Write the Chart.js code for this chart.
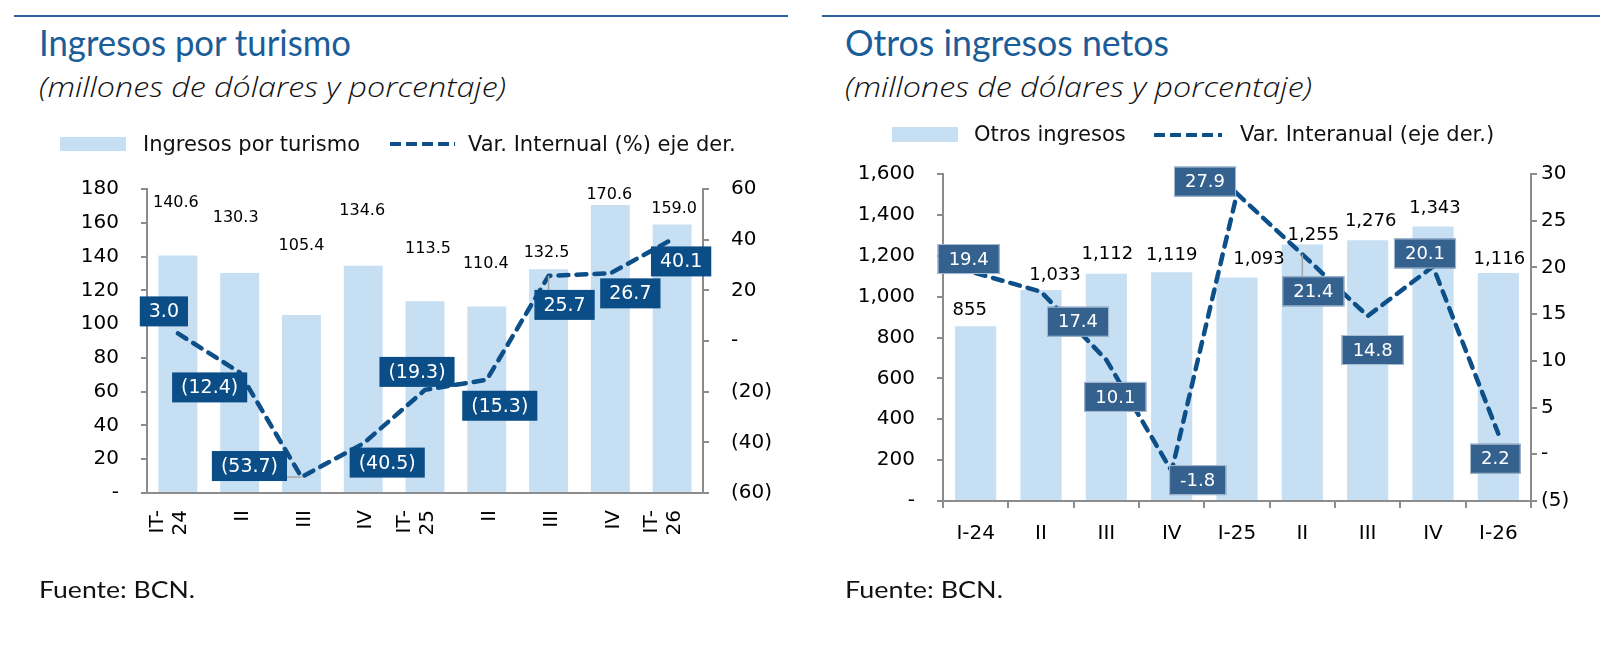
<!DOCTYPE html>
<html><head><meta charset="utf-8">
<script src="https://cdn.jsdelivr.net/npm/chart.js@4.4.1/dist/chart.umd.min.js"></script>
<style>
html,body{margin:0;padding:0;background:#fff;}
body{width:1612px;height:672px;position:relative;overflow:hidden;}
.t{position:absolute;white-space:nowrap;transform-origin:0 50%;}
.rule{position:absolute;height:2px;background:#2b6299;top:15px;}
.title{font-family:Lato,'Noto Sans',sans-serif;font-size:36px;line-height:36px;color:#1b5d98;}
.sub{font-family:'Open Sans','Noto Sans',sans-serif;font-style:italic;font-weight:300;font-size:27px;line-height:27px;color:#111;}
.src{font-family:Lato,'Noto Sans',sans-serif;font-size:24px;line-height:24px;color:#111;}
.leg{position:absolute;white-space:nowrap;font-family:'DejaVu Sans',sans-serif;font-size:21px;line-height:24px;color:#111;z-index:2;}
.lbox{position:absolute;background:#c7dff3;z-index:2;}
.ldash{position:absolute;height:4px;z-index:2;background:repeating-linear-gradient(90deg,#0d4f88 0 11px,transparent 11px 16px);}
canvas{position:absolute;top:0;}
</style></head><body>

<div class="rule" style="left:14px;width:774px"></div>
<div class="rule" style="left:822px;width:778px"></div>

<div class="t title" data-w="312" style="left:39px;top:24px">Ingresos por turismo</div>
<div class="t sub" data-w="467" style="left:39px;top:73px">(millones de dólares y porcentaje)</div>
<div class="t title" data-w="324" style="left:845px;top:24px">Otros ingresos netos</div>
<div class="t sub" data-w="467" style="left:845px;top:73px">(millones de dólares y porcentaje)</div>

<div class="lbox" style="left:60px;top:137px;width:66px;height:14px"></div>
<div class="leg" style="left:143px;top:132px">Ingresos por turismo</div>
<div class="ldash" style="left:390px;top:142px;width:65px"></div>
<div class="leg" style="left:468px;top:132px">Var. Internual (%) eje der.</div>

<div class="lbox" style="left:892px;top:127px;width:66px;height:15px"></div>
<div class="leg" style="left:974px;top:122px">Otros ingresos</div>
<div class="ldash" style="left:1154px;top:133px;width:68px"></div>
<div class="leg" style="left:1240px;top:122px">Var. Interanual (eje der.)</div>

<canvas id="c1" width="800" height="672" style="left:0"></canvas>
<canvas id="c2" width="806" height="672" style="left:806px"></canvas>

<div class="t src" data-w="156" style="left:39px;top:577px">Fuente: BCN.</div>
<div class="t src" data-w="158" style="left:845px;top:577px">Fuente: BCN.</div>

<script>
// ---- data ----
const categoriesTurismo = ['IT-24','II','III','IV','IT-25','II','III','IV','IT-26'];
const ingresosTurismo = [140.6,130.3,105.4,134.6,113.5,110.4,132.5,170.6,159.0];
const varTurismo = [3.0,-12.4,-53.7,-40.5,-19.3,-15.3,25.7,26.7,40.1];

const categoriesOtros = ['I-24','II','III','IV','I-25','II','III','IV','I-26'];
const otrosIngresos = [855,1033,1112,1119,1093,1255,1276,1343,1116];
const varOtros = [19.4,17.4,10.1,-1.8,27.9,21.4,14.8,20.1,2.2];

// ---- label placement (pixel offsets from the mark) ----
const barLabelOff1 = [[-2,-53],[-4,-55],[0,-69],[-1,-55],[3,-52],[-1,-43],[-2,-16],[-1,-10],[2,-16]];
const boxOff1 = [[-14,-22],[-30,15],[-52,-11],[24,19],[-8,-18],[13,26],[16,29],[20,20],[9,22]];
const barLabelOff2 = [[-6,-16],[14,-15],[1,-19],[0,-17],[22,-18],[11,-9],[3,-19],[2,-18],[1,-14]];
const boxOff2 = [[-7,-14],[37,30],[9,37],[26,9],[-32,-12],[11,37],[5,34],[-8,-13],[-3,25]];
const leaders1 = [2, 6];
const leaders2 = [5];

const FONT = "'DejaVu Sans', Verdana, sans-serif";
const AX = '#8c8c8c';
const LINE = '#0d4f88';
const BAR = '#c7dff3';

const valueLabels = {
  id: 'valueLabels',
  afterDatasetsDraw(chart, args, o) {
    const ctx = chart.ctx;
    const pts = chart.getDatasetMeta(0).data;
    const bars = chart.getDatasetMeta(1).data;
    ctx.save();
    ctx.textAlign = 'center';
    ctx.textBaseline = 'middle';
    ctx.font = o.barFont;
    ctx.fillStyle = '#000';
    bars.forEach((b, i) => {
      ctx.fillText(o.barText(i), b.x + o.barOff[i][0], b.y + o.barOff[i][1]);
    });
    ctx.font = o.boxFont;
    pts.forEach((p, i) => {
      const t = o.lineText(i);
      const w = ctx.measureText(t).width + 2 * o.padX, h = o.boxH;
      const cx = p.x + o.boxOff[i][0], cy = p.y + o.boxOff[i][1];
      const x0 = cx - w / 2, y0 = cy - h / 2;
      if (o.leaders.includes(i)) {
        const nx = Math.min(Math.max(p.x, x0), x0 + w);
        const ny = Math.min(Math.max(p.y, y0), y0 + h);
        ctx.strokeStyle = '#a6a6a6'; ctx.lineWidth = 1.5;
        ctx.beginPath(); ctx.moveTo(p.x, p.y); ctx.lineTo(nx, ny); ctx.stroke();
      }
      ctx.fillStyle = o.boxFill;
      ctx.fillRect(x0, y0, w, h);
      if (o.boxStroke) {
        ctx.strokeStyle = o.boxStroke; ctx.lineWidth = 1;
        ctx.strokeRect(x0 + 0.5, y0 + 0.5, w - 1, h - 1);
      }
      ctx.fillStyle = '#fff';
      ctx.fillText(t, cx, cy + 1);
    });
    ctx.restore();
  }
};

function pctParen(v) { return v < 0 ? '(' + Math.abs(v) + ')' : (v === 0 ? '-' : String(v)); }

function yAxis(pos, min, max, step, cb, width, pad) {
  return {
    position: pos, min: min, max: max,
    ticks: { stepSize: step, padding: pad, color: '#000', font: { family: FONT, size: 20 }, callback: cb },
    grid: { drawOnChartArea: false, tickLength: 6, color: AX, lineWidth: 2 },
    border: { color: AX, width: 2 },
    afterFit: s => { s.width = width; }
  };
}

// ---- chart 1 ----
new Chart(document.getElementById('c1'), {
  type: 'bar',
  data: {
    labels: categoriesTurismo,
    datasets: [
      { type: 'line', label: 'Var. Internual (%) eje der.', data: varTurismo, yAxisID: 'y1', order: 0,
        borderColor: LINE, borderWidth: 4.5, borderDash: [10, 8], borderCapStyle: 'round', pointRadius: 0, tension: 0, fill: false },
      { type: 'bar', label: 'Ingresos por turismo', data: ingresosTurismo, yAxisID: 'y', order: 1,
        backgroundColor: BAR, categoryPercentage: 1, barPercentage: 0.63 }
    ]
  },
  options: {
    responsive: false, animation: false,
    layout: { padding: { top: 189, left: 0, right: 0, bottom: 0 } },
    plugins: {
      legend: { display: false }, tooltip: { enabled: false },
      valueLabels: {
        barFont: '16px ' + FONT, boxFont: '19px ' + FONT, padX: 9, boxH: 30,
        boxFill: '#0b4d87', boxStroke: null,
        barOff: barLabelOff1, boxOff: boxOff1, leaders: leaders1,
        barText: i => ingresosTurismo[i].toFixed(1),
        lineText: i => varTurismo[i] < 0 ? '(' + Math.abs(varTurismo[i]).toFixed(1) + ')' : varTurismo[i].toFixed(1)
      }
    },
    scales: {
      x: {
        grid: { display: true, drawOnChartArea: false, drawTicks: false },
        border: { color: AX, width: 2 },
        ticks: { autoSkip: false, minRotation: 90, maxRotation: 90, padding: 17, labelOffset: -20, color: '#000',
          font: { family: FONT, size: 20, lineHeight: 1.15 },
          callback: (v, i) => { const s = categoriesTurismo[i]; const m = s.match(/^(IT-)(\d+)$/); return m ? [m[1], m[2]] : ['', s]; } },
        afterFit: s => { s.height = 672 - 493; }
      },
      y: yAxis('left', 0, 180, 20, v => v === 0 ? '-' : v, 147, 22),
      y1: yAxis('right', -60, 60, 20, pctParen, 97, 22)
    }
  },
  plugins: [valueLabels]
});

// ---- chart 2 ----
new Chart(document.getElementById('c2'), {
  type: 'bar',
  data: {
    labels: categoriesOtros,
    datasets: [
      { type: 'line', label: 'Var. Interanual (eje der.)', data: varOtros, yAxisID: 'y1', order: 0,
        borderColor: LINE, borderWidth: 4.5, borderDash: [10, 8], borderCapStyle: 'round', pointRadius: 0, tension: 0, fill: false },
      { type: 'bar', label: 'Otros ingresos', data: otrosIngresos, yAxisID: 'y', order: 1,
        backgroundColor: BAR, categoryPercentage: 1, barPercentage: 0.63 }
    ]
  },
  options: {
    responsive: false, animation: false,
    layout: { padding: { top: 174, left: 0, right: 0, bottom: 0 } },
    plugins: {
      legend: { display: false }, tooltip: { enabled: false },
      valueLabels: {
        barFont: '18px ' + FONT, boxFont: '18px ' + FONT, padX: 11, boxH: 30,
        boxFill: '#35618f', boxStroke: '#a9bdd2',
        barOff: barLabelOff2, boxOff: boxOff2, leaders: leaders2,
        barText: i => otrosIngresos[i].toLocaleString('en-US'),
        lineText: i => varOtros[i].toFixed(1)
      }
    },
    scales: {
      x: {
        offset: true,
        grid: { display: true, drawOnChartArea: false, drawTicks: true, tickLength: 7, offset: true, color: AX, lineWidth: 2 },
        border: { color: AX, width: 2 },
        ticks: { autoSkip: false, maxRotation: 0, minRotation: 0, padding: 14, color: '#000', font: { family: FONT, size: 20 } },
        afterFit: s => { s.height = 672 - 501; }
      },
      y: yAxis('left', 0, 1600, 200, v => v === 0 ? '-' : v.toLocaleString('en-US'), 137, 22),
      y1: yAxis('right', -5, 30, 5, pctParen, 81, 4)
    }
  },
  plugins: [valueLabels]
});

// ---- fit heading text widths ----
function fitAll() {
  document.querySelectorAll('.t[data-w]').forEach(el => {
    el.style.transform = 'none';
    const w = el.getBoundingClientRect().width;
    const target = +el.dataset.w;
    if (w > 0) el.style.transform = 'scaleX(' + (target / w) + ')';
  });
}
fitAll();
if (document.fonts && document.fonts.ready) document.fonts.ready.then(fitAll);
</script>
</body></html>
